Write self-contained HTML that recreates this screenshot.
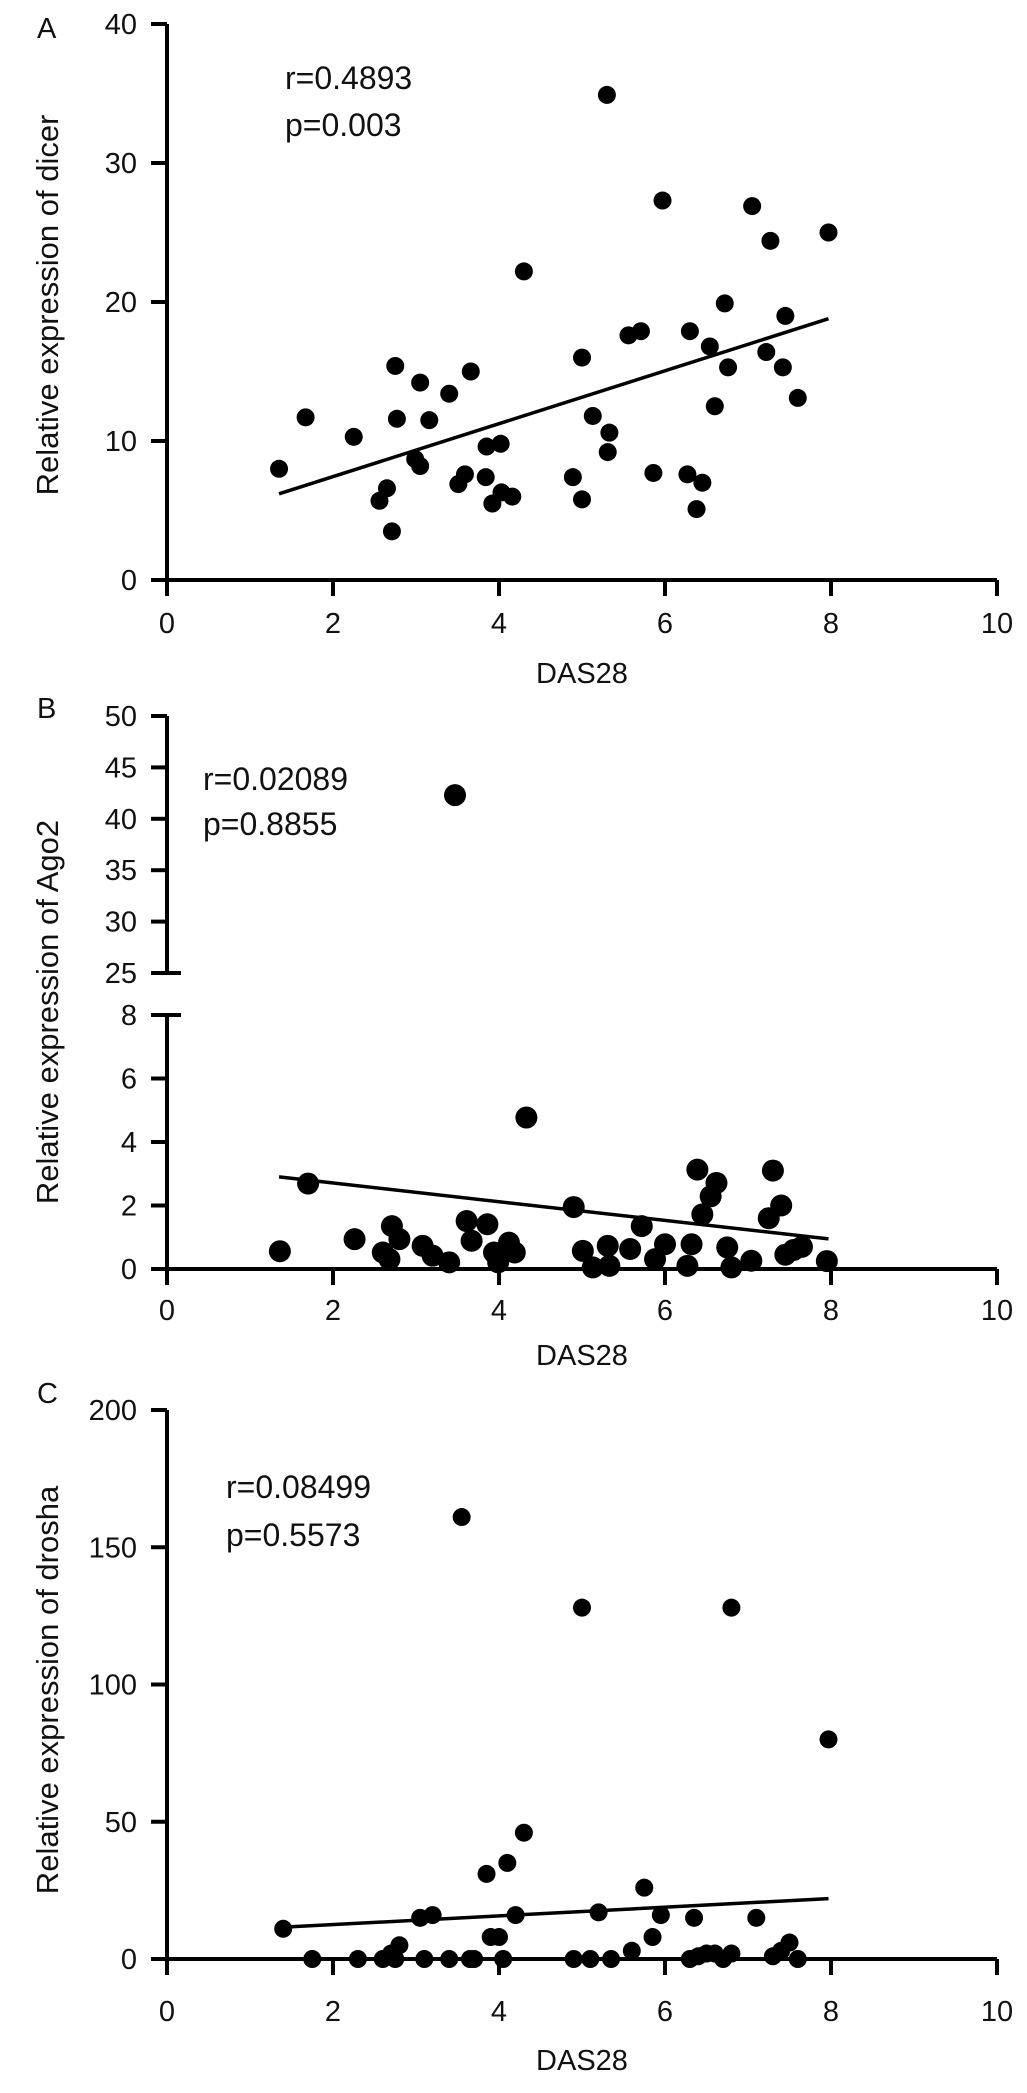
<!DOCTYPE html>
<html><head><meta charset="utf-8"><style>
body{margin:0;background:#fff}
svg{display:block;font-family:"Liberation Sans",sans-serif}
</style></head><body>
<svg id="fig" width="1027" height="2093" viewBox="0 0 1027 2093"></svg>
<script>
// Panel A data (dicer)
const aX=[1.35,1.67,2.25,2.56,2.65,2.71,2.75,2.77,2.99,3.05,3.05,3.16,3.40,3.51,3.59,3.66,3.84,3.85,3.92,4.02,4.03,4.16,4.30,4.89,5.0,5.0,5.13,5.33,5.31,5.30,5.56,5.71,5.86,5.97,6.27,6.30,6.38,6.45,6.54,6.60,6.72,6.76,7.05,7.22,7.27,7.42,7.45,7.60,7.97];
const aY=[8.0,11.7,10.3,5.7,6.6,3.5,15.4,11.6,8.7,8.2,14.2,11.5,13.4,6.9,7.6,15.0,7.4,9.6,5.5,9.8,6.3,6.0,22.2,7.4,16.0,5.8,11.8,10.6,9.2,34.9,17.6,17.9,7.7,27.3,7.6,17.9,5.1,7.0,16.8,12.5,19.9,15.3,26.9,16.4,24.4,15.3,19.0,13.1,25.0];
const aLine=[[1.35,6.2],[7.97,18.8]];
// Panel B data (Ago2)
const bX=[1.36,1.70,2.26,2.60,2.71,2.80,2.68,3.08,3.20,3.40,3.61,3.86,3.67,3.94,3.99,4.12,4.19,4.33,4.90,5.01,5.13,5.31,5.33,5.58,5.72,5.88,6.00,6.27,6.32,6.39,6.45,6.55,6.62,6.75,6.80,7.04,7.30,7.25,7.40,7.45,7.55,7.65,7.95];
const bY=[0.56,2.69,0.94,0.52,1.35,0.94,0.31,0.73,0.42,0.21,1.51,1.41,0.89,0.52,0.21,0.83,0.52,4.77,1.95,0.57,0.05,0.73,0.10,0.63,1.35,0.31,0.78,0.10,0.78,3.13,1.72,2.29,2.71,0.68,0.05,0.26,3.1,1.6,2.0,0.45,0.6,0.7,0.25];
const bOutX=[3.47];
const bOutY=[42.3];
const bLine=[[1.35,2.9],[7.97,0.95]];
// Panel C data (drosha)
const cX=[1.4,1.75,2.3,2.6,2.7,2.8,2.75,3.05,3.1,3.2,3.4,3.55,3.65,3.7,3.85,3.9,4.0,4.05,4.1,4.2,4.3,4.9,5.0,5.1,5.2,5.35,5.6,5.75,5.85,5.95,6.3,6.35,6.4,6.5,6.6,6.7,6.8,6.8,7.1,7.3,7.4,7.5,7.6,7.97];
const cY=[11,0,0,0,2,5,0,15,0,16,0,161,0,0,31,8,8,0,35,16,46,0,128,0,17,0,3,26,8,16,0,15,1,2,2,0,128,2,15,1,3,6,0,80];
const cLine=[[1.35,11.5],[7.97,22]];
const xTicks=[0,2,4,6,8,10];

const NS="http://www.w3.org/2000/svg";
const svg=document.getElementById('fig');
function mk(tag,attrs,parent){const e=document.createElementNS(NS,tag);for(const k in attrs)e.setAttribute(k,attrs[k]);(parent||svg).appendChild(e);return e;}
const X0=167,X1=997;
const sx=v=>X0+(X1-X0)*v/10;
const TF=29, AW=4;

function txt(x,y,s,size,anchor,name,rot){
  const t=mk('text',{x:x,y:y,'font-size':size,'text-anchor':anchor||'start',fill:'#111'});
  if(rot)t.setAttribute('transform','rotate(-90 '+x+' '+y+')');
  
  
  t.textContent=s;return t;
}
function xAxis(yPix,labelY,titleY,pfx){
  const l=mk('line',{x1:X0-14,y1:yPix,x2:X1,y2:yPix,stroke:'#000','stroke-width':AW});
  
  
  xTicks.forEach(v=>{
    const t=mk('line',{x1:sx(v),y1:yPix,x2:sx(v),y2:yPix+16,stroke:'#000','stroke-width':AW});
    
    
    txt(sx(v),labelY,String(v),TF,'middle',pfx+'-x-tick-label');
  });
  txt(sx(5),titleY,'DAS28',TF,'middle',pfx+'-x-axis-title');
}
function yAxis(sy,ticks,top,bottom,pfx){
  const l=mk('line',{x1:X0,y1:top,x2:X0,y2:bottom+16,stroke:'#000','stroke-width':AW});
  
  
  ticks.forEach(v=>{
    const t=mk('line',{x1:X0-16,y1:sy(v),x2:X0,y2:sy(v),stroke:'#000','stroke-width':AW});
    
    
    txt(X0-30,sy(v)+10,String(v),TF,'end',pfx+'-y-tick-label');
  });
}
function dots(xs,ys,sy,r,pfx){
  xs.forEach((v,i)=>{
    const c=mk('circle',{cx:sx(v),cy:sy(ys[i]),r:r,fill:'#000'});
    
    
  });
}
function fit(ln,sy,pfx){
  const l=mk('line',{x1:sx(ln[0][0]),y1:sy(ln[0][1]),x2:sx(ln[1][0]),y2:sy(ln[1][1]),stroke:'#000','stroke-width':3.5});
  
  
}

// Panel A
const syA=v=>580-v*(580-24)/40;
yAxis(syA,[0,10,20,30,40],24,580,'a');
xAxis(580,633,683,'a');
fit(aLine,syA,'a');
dots(aX,aY,syA,9,'a');
txt(37,38,'A',29,'start','panel-a-label');
txt(285,89,'r=0.4893',32,'start','a-r-value');
txt(285,136,'p=0.003',32,'start','a-p-value');
txt(58,305,'Relative expression of dicer',31,'middle','a-y-axis-title',true);

// Panel B
const syB=v=>1269-v*(1269-1015)/8;
const syBu=v=>973-(v-25)*(973-716)/25;
const ua=mk('line',{x1:X0,y1:716,x2:X0,y2:973,stroke:'#000','stroke-width':AW});


[25,30,35,40,45,50].forEach(v=>{
  const t=mk('line',{x1:X0-16,y1:syBu(v),x2:(v===25?X0+14:X0),y2:syBu(v),stroke:'#000','stroke-width':AW});
  
  
  txt(X0-30,syBu(v)+10,String(v),TF,'end','b-upper-y-tick-label');
});
yAxis(syB,[0,2,4,6,8],1015,1269,'b');
mk('line',{x1:X0,y1:1015,x2:X0+14,y2:1015,stroke:'#000','stroke-width':AW});
xAxis(1269,1320,1365,'b');
fit(bLine,syB,'b');
dots(bX,bY,syB,11,'b');
dots(bOutX,bOutY,syBu,11,'b-outlier');
txt(37,718,'B',29,'start','panel-b-label');
txt(203,790,'r=0.02089',32,'start','b-r-value');
txt(203,835,'p=0.8855',32,'start','b-p-value');
txt(58,1012,'Relative expression of Ago2',31,'middle','b-y-axis-title',true);

// Panel C
const syC=v=>1959-v*(1959-1410)/200;
yAxis(syC,[0,50,100,150,200],1410,1959,'c');
xAxis(1959,2021,2070,'c');
fit(cLine,syC,'c');
dots(cX,cY,syC,9,'c');
txt(37,1403,'C',29,'start','panel-c-label');
txt(226,1498,'r=0.08499',32,'start','c-r-value');
txt(226,1546,'p=0.5573',32,'start','c-p-value');
txt(58,1690,'Relative expression of drosha',31,'middle','c-y-axis-title',true);
</script>
</body></html>
